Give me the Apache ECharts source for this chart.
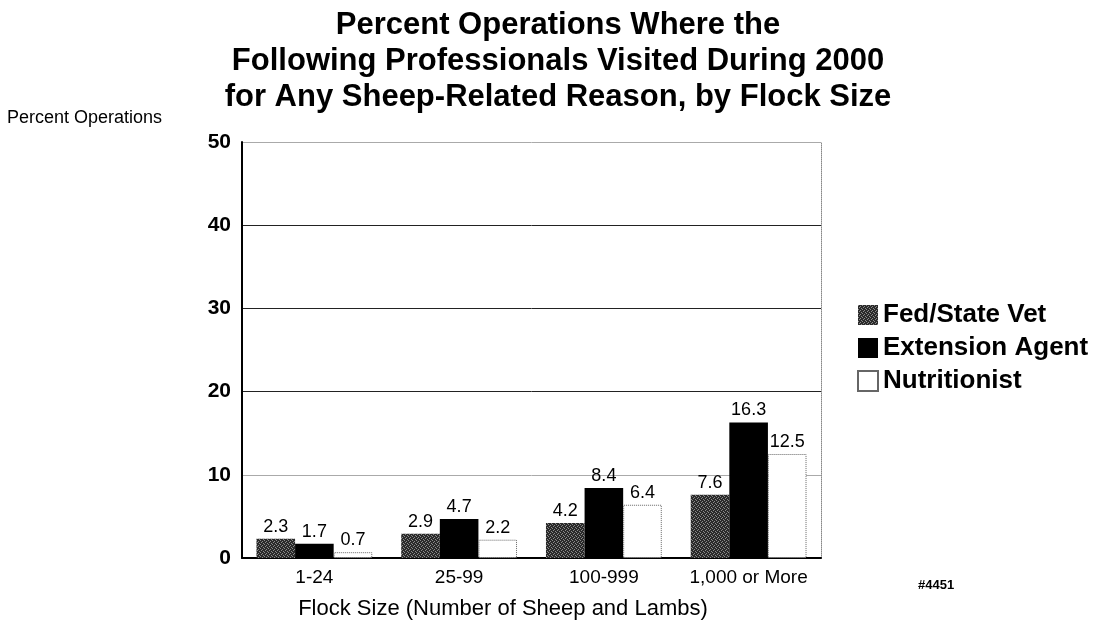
<!DOCTYPE html>
<html>
<head>
<meta charset="utf-8">
<script src="https://cdn.jsdelivr.net/npm/echarts@6/dist/echarts.min.js"></script>
<style>
html,body{margin:0;padding:0;background:#fff;}
#chart{width:1107px;height:630px;}
</style>
</head>
<body>
<div id="chart"></div>
<script>
const categories = ['1-24', '25-99', '100-999', '1,000 or More'];
const seriesNames = ['Fed/State Vet', 'Extension Agent', 'Nutritionist'];
const fedStateVet = [2.3, 2.9, 4.2, 7.6];
const extensionAgent = [1.7, 4.7, 8.4, 16.3];
const nutritionist = [0.7, 2.2, 6.4, 12.5];
const yTicks = [0, 10, 20, 30, 40, 50];
// grid line colour per tick (0,10,20,30,40,50): 10 and 50 are faint dotted in the original
const gridColors = ['#000', '#aaa', '#222', '#222', '#222', '#aaa'];

const FONT = 'Liberation Sans, Arial, sans-serif';

const pat = document.createElement('canvas');
pat.width = 4; pat.height = 4;
const pc = pat.getContext('2d');
pc.fillStyle = '#2a2a2a'; pc.fillRect(0, 0, 4, 4);
pc.fillStyle = '#8a8a8a';
pc.fillRect(0, 0, 1, 1); pc.fillRect(2, 1, 1, 1); pc.fillRect(1, 2, 1, 1); pc.fillRect(3, 3, 1, 1);

const chart = echarts.init(document.getElementById('chart'), null, {renderer: 'canvas'});

const labelCfg = {show: true, position: 'top', color: '#000', fontSize: 18, fontFamily: FONT, distance: 3};

chart.setOption({
  animation: false,
  backgroundColor: '#fff',
  title: {
    text: 'Percent Operations Where the\nFollowing Professionals Visited During 2000\nfor Any Sheep-Related Reason, by Flock Size',
    left: 553, top: 2, textAlign: 'center',
    textStyle: {fontFamily: FONT, fontWeight: 'bold', fontSize: 31, lineHeight: 36, color: '#000'}
  },
  graphic: [
    {type: 'text', left: 7, top: 109, style: {text: 'Percent Operations', font: '18px ' + FONT, fill: '#000'}},
    {type: 'text', x: 503, y: 598, style: {text: 'Flock Size (Number of Sheep and Lambs)', font: '22px ' + FONT, fill: '#000', textAlign: 'center', textVerticalAlign: 'top'}},
    {type: 'text', left: 918, top: 579, style: {text: '#4451', font: 'bold 13px ' + FONT, fill: '#000'}}
  ],
  legend: {
    orient: 'vertical', left: 852, top: 297,
    icon: 'rect',
    itemWidth: 20, itemHeight: 20, itemGap: 7,
    textStyle: {fontFamily: FONT, fontWeight: 'bold', fontSize: 26, lineHeight: 22, color: '#000'},
    data: seriesNames
  },
  grid: {left: 242, right: 286, top: 142, bottom: 72},
  xAxis: {
    type: 'category', data: categories,
    axisLine: {show: true, lineStyle: {color: '#000', width: 2}},
    axisTick: {show: false},
    axisLabel: {interval: 0, fontFamily: FONT, fontSize: 19, color: '#000', margin: 10}
  },
  yAxis: [{
    type: 'value', min: 0, max: 50, interval: 10,
    axisLine: {show: true, lineStyle: {color: '#000', width: 2}},
    axisTick: {show: false},
    splitLine: {show: true, lineStyle: {color: gridColors, width: 1}},
    axisLabel: {fontFamily: FONT, fontSize: 21, fontWeight: 'bold', color: '#000', margin: 11,
      formatter: v => yTicks.includes(v) ? String(v) : ''}
  }, {
    type: 'value', min: 0, max: 50, interval: 10, position: 'right',
    axisLine: {show: true, lineStyle: {color: '#888', width: 1, type: 'dotted'}},
    axisTick: {show: false}, axisLabel: {show: false}, splitLine: {show: false}
  }],
  series: [
    {
      name: seriesNames[0], type: 'bar', data: fedStateVet,
      barGap: '0%', barCategoryGap: '20%',
      itemStyle: {color: {image: pat, repeat: 'repeat'}},
      label: labelCfg
    },
    {
      name: seriesNames[1], type: 'bar', data: extensionAgent,
      itemStyle: {color: '#000'},
      label: labelCfg
    },
    {
      name: seriesNames[2], type: 'bar', data: nutritionist,
      itemStyle: {color: '#fff', borderColor: '#666', borderWidth: 1, borderType: 'dotted'},
      label: labelCfg
    }
  ]
});
</script>
</body>
</html>
